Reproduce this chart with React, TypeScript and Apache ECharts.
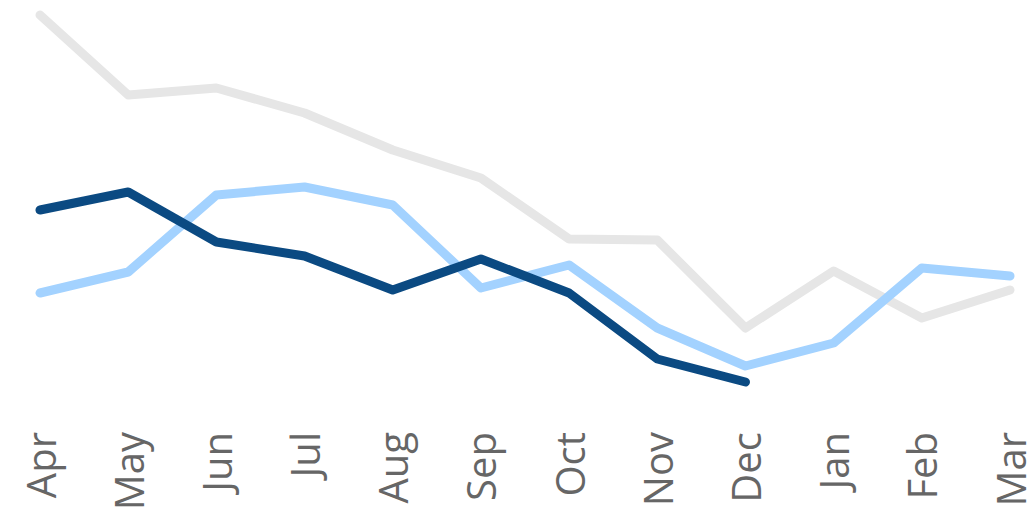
import React, { useEffect, useRef } from "react";
import * as echarts from "echarts";

const categories = ["Apr", "May", "Jun", "Jul", "Aug", "Sep", "Oct", "Nov", "Dec", "Jan", "Feb", "Mar"];
const grayValues = [385, 305, 312, 287, 250, 222, 161, 160, 72, 129, 82, 110];
const lightValues = [107, 128, 205, 213, 195, 112, 135, 72, 34, 57, 132, 124];
const darkValues = [190, 208, 158, 144, 110, 141, 107, 41, 18, null, null, null];

export default function App() {
  const ref = useRef<HTMLDivElement>(null);
  useEffect(() => {
    document.body.style.margin = "0";
    const chart = echarts.init(ref.current!, null, { renderer: "svg" });
    const mk = (name: string, data: (number | null)[], color: string) => ({
      name,
      type: "line",
      data,
      symbol: "none",
      lineStyle: { width: 9, color, cap: "round", join: "round" },
      itemStyle: { color },
    });
    chart.setOption({
      animation: false,
      grid: { left: 40, right: 18, top: 0, bottom: 115 },
      xAxis: {
        type: "category",
        data: categories,
        boundaryGap: false,
        axisLine: { show: false },
        axisTick: { show: false },
        axisLabel: {
          rotate: 90,
          margin: 32,
          fontSize: 40,
          color: "#666666",
          fontFamily: "Open Sans",
        },
      },
      yAxis: {
        type: "value",
        min: 0,
        max: 400,
        show: false,
        splitLine: { show: false },
      },
      series: [
        mk("Gray", grayValues, "#e6e6e6"),
        mk("Light", lightValues, "#a3d2ff"),
        mk("Dark", darkValues, "#0b4a82"),
      ],
    });
    return () => chart.dispose();
  }, []);
  return <div ref={ref} style={{ width: 1030, height: 515 }} />;
}
